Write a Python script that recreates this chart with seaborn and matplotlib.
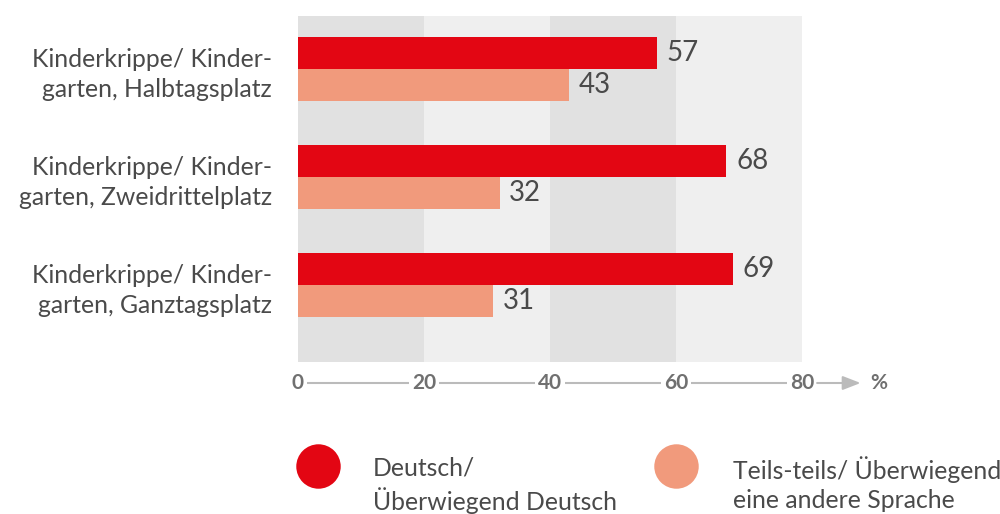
import matplotlib
matplotlib.use("Agg")
import matplotlib.pyplot as plt
from matplotlib.lines import Line2D
from matplotlib.transforms import blended_transform_factory
import seaborn as sns
import pandas as pd

categories = ["Kinderkrippe/ Kinder-\ngarten, Halbtagsplatz",
              "Kinderkrippe/ Kinder-\ngarten, Zweidrittelplatz",
              "Kinderkrippe/ Kinder-\ngarten, Ganztagsplatz"]
series_names = ["Deutsch/\nÜberwiegend Deutsch",
                "Teils-teils/ Überwiegend\neine andere Sprache"]
deutsch = [57, 68, 69]
andere = [43, 32, 31]
x_ticks = [0, 20, 40, 60, 80]
colors = ["#e30613", "#f19a7c"]

rows = []
for c, a, b in zip(categories, deutsch, andere):
    rows.append({"cat": c, "series": series_names[0], "value": a})
    rows.append({"cat": c, "series": series_names[1], "value": b})
df = pd.DataFrame(rows)

sns.set_theme(style="white")
plt.rcParams['font.family'] = ['Lato', 'DejaVu Sans']

TXT = "#4a4a4a"
W, H = 1000, 514

fig = plt.figure(figsize=(10, 5.14), dpi=100)
ax = fig.add_axes([0.298, 1 - 362/H, 0.504, (362 - 16)/H])

# background bands
for i, (lo, hi) in enumerate(zip(x_ticks[:-1], x_ticks[1:])):
    ax.axvspan(lo, hi, color="#e1e1e1" if i % 2 == 0 else "#efefef", lw=0, zorder=0)

sns.barplot(data=df, y="cat", x="value", hue="series", orient="h",
            palette=colors, width=0.593, saturation=1, ax=ax, legend=False,
            linewidth=0, edgecolor="none", zorder=2)

ax.set_xlim(0, 80)
ax.set_ylim(2.713, -0.49)
ax.set_xlabel("")
ax.set_ylabel("")
for s in ax.spines.values():
    s.set_visible(False)
ax.set_xticks([])
ax.tick_params(axis="y", length=0, pad=19)
ax.set_yticks(range(len(categories)))
ax.set_yticklabels(categories, fontsize=17.8, color=TXT, fontweight="normal",
                   linespacing=1.38, ha="right")

# value labels
for cont in ax.containers:
    ax.bar_label(cont, fmt="%d", padding=7, fontsize=20, color=TXT,
                 fontweight="normal")

# custom x axis
tr = blended_transform_factory(ax.transData, ax.transAxes)
yax = -0.0607
for t in x_ticks:
    ax.text(t, yax, str(t), transform=tr, ha="center", va="center",
            fontsize=15, color="#707070", fontweight="bold", clip_on=False)
for lo, hi in zip(x_ticks[:-1], x_ticks[1:]):
    l0 = lo + (1.4 if lo == 0 else 2.4)
    ax.plot([l0, hi - 2.4], [yax, yax], transform=tr, color="#bbbbbb", lw=1.5,
            clip_on=False, solid_capstyle="butt")
ax.annotate("", xy=(89.3, yax), xytext=(82.4, yax), xycoords=tr, textcoords=tr,
            arrowprops=dict(arrowstyle="-|>,head_length=0.9,head_width=0.35",
                            color="#bbbbbb", lw=1.5, shrinkA=0, shrinkB=0),
            annotation_clip=False)
ax.text(90.8, yax, "%", transform=tr, ha="left", va="center", fontsize=15,
        color="#707070", fontweight="bold", clip_on=False)

# legend (circle keys aligned with first text line)
key_x = [318, 676]
text_x = [373, 733]
for c, name, kx, tx in zip(colors, series_names, key_x, text_x):
    fig.add_artist(Line2D([kx / W], [1 - 466 / H], transform=fig.transFigure,
                          marker="o", linestyle="", markersize=32,
                          markerfacecolor=c, markeredgewidth=0))
    fig.text(tx / W, 1 - 456 / H, name, ha="left", va="top", fontsize=17.8,
             color=TXT, linespacing=1.35)

fig.savefig("out.png", dpi=100, facecolor="white")
